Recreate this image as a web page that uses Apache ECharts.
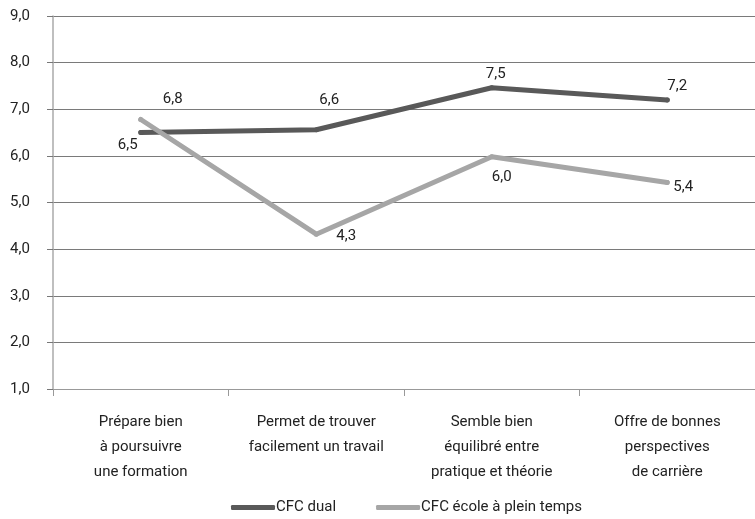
<!DOCTYPE html>
<html>
<head>
<meta charset="utf-8">
<script src="https://cdn.jsdelivr.net/npm/echarts@6/dist/echarts.min.js"></script>
<style>html,body{margin:0;padding:0;background:#fff}#c{width:755px;height:519px}</style>
</head>
<body>
<div id="c"></div>
<script>
var categories = ["Prépare bien\nà poursuivre\nune formation", "Permet de trouver\nfacilement un travail", "Semble bien\néquilibré entre\npratique et théorie", "Offre de bonnes\nperspectives\nde carrière"];
var seriesNames = ["CFC dual", "CFC école à plein temps"];
var dualValues = [6.5, 6.56, 7.46, 7.2];
var pleinTempsValues = [6.78, 4.32, 5.98, 5.43];
var yMin = 1, yMax = 9, yStep = 1;

var dualOffsets = [[-13, 13], [13, -30], [4, -14], [10, -14]];
var pleinOffsets = [[32, -20], [30, 2], [10, 20], [16, 5]];

function fmt(v) { return v.toFixed(1).replace('.', ','); }
function build(values, offsets) {
  return values.map(function (v, i) {
    return { value: v, label: { offset: offsets[i] } };
  });
}
var font = "Roboto, 'Open Sans', sans-serif";
var fs = 15;
var chart = echarts.init(document.getElementById('c'), null, { renderer: 'canvas' });
chart.setOption({
  animation: false,
  backgroundColor: '#fff',
  textStyle: { fontFamily: font },
  grid: { left: 53, right: -4, top: 16, bottom: 130, containLabel: false },
  legend: {
    left: 226, top: 495,
    itemWidth: 44, itemHeight: 5, itemGap: 40,
    icon: 'roundRect',
    textStyle: { fontSize: fs, color: '#222', fontFamily: font, padding: [0, 0, 0, -4] },
    data: seriesNames
  },
  xAxis: {
    type: 'category',
    data: categories,
    boundaryGap: true,
    axisLine: { lineStyle: { color: '#999', width: 1 } },
    axisTick: { show: true, length: 7, lineStyle: { color: '#999' } },
    axisLabel: { fontSize: fs, color: '#222', lineHeight: 25, margin: 21, fontFamily: font, interval: 0 }
  },
  yAxis: {
    type: 'value', min: yMin, max: yMax, interval: yStep,
    axisLine: { show: true, lineStyle: { color: '#aaa', width: 1.5 } },
    axisTick: { show: true, length: 6, lineStyle: { color: '#777' } },
    splitLine: { lineStyle: { color: '#7a7a7a', width: 1 } },
    axisLabel: { fontSize: fs, color: '#222', margin: 43, align: 'left', fontFamily: font, formatter: function (v) { return fmt(v); } }
  },
  series: [
    {
      name: seriesNames[0], type: 'line',
      data: build(dualValues, dualOffsets),
      symbol: 'circle', symbolSize: 5, showSymbol: true,
      itemStyle: { color: '#595959' },
      lineStyle: { color: '#595959', width: 5, cap: 'round', join: 'round' },
      label: { show: true, position: 'inside', fontSize: fs, color: '#222', fontFamily: font,
        formatter: function (p) { return fmt(p.value); } },
      z: 3
    },
    {
      name: seriesNames[1], type: 'line',
      data: build(pleinTempsValues, pleinOffsets),
      symbol: 'circle', symbolSize: 5, showSymbol: true,
      itemStyle: { color: '#a6a6a6' },
      lineStyle: { color: '#a6a6a6', width: 5, cap: 'round', join: 'round' },
      label: { show: true, position: 'inside', fontSize: fs, color: '#222', fontFamily: font,
        formatter: function (p) { return fmt(p.value); } },
      z: 4
    }
  ]
});
</script>
</body>
</html>
